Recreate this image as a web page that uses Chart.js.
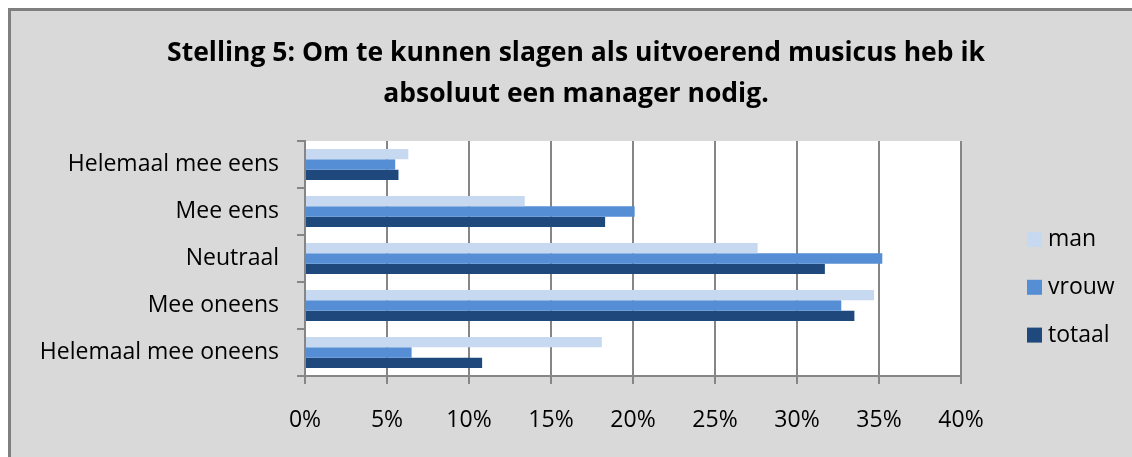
<!DOCTYPE html>
<html><head><meta charset="utf-8">
<script src="https://cdn.jsdelivr.net/npm/chart.js@4"></script>
<style>
html,body{margin:0;padding:0;background:#fff;}
#wrap{position:absolute;left:8px;top:8px;width:1121px;height:446px;border-left:3px solid #7f7f7f;border-top:3px solid #7f7f7f;background:#d9d9d9;}
canvas{display:block;}
</style></head><body>
<div id="wrap"><canvas id="c" width="1121" height="446"></canvas></div>
<script>
const titleLines = ['Stelling 5: Om te kunnen slagen als uitvoerend musicus heb ik', 'absoluut een manager nodig.'];
const categories = ['Helemaal mee eens', 'Mee eens', 'Neutraal', 'Mee oneens', 'Helemaal mee oneens'];
const seriesNames = ['man', 'vrouw', 'totaal'];
const manValues = [6.3, 13.4, 27.6, 34.7, 18.1];
const vrouwValues = [5.5, 20.1, 35.2, 32.7, 6.5];
const totaalValues = [5.7, 18.3, 31.7, 33.5, 10.8];
const axisMin = 0, axisMax = 40, axisStep = 5;

const colors = ['#c6d9f1', '#558ed5', '#1f497d'];
const fontFamily = '"Open Sans", Lato, sans-serif';
const gridColor = '#868686';
const labelSize = 23;

const plotBg = {
  id: 'plotBg',
  beforeDraw(chart) {
    const a = chart.chartArea, ctx = chart.ctx;
    ctx.save(); ctx.fillStyle = '#ffffff';
    ctx.fillRect(a.left, a.top, a.right - a.left, a.bottom - a.top);
    ctx.restore();
  }
};
const titlePlugin = {
  id: 'titleDraw',
  afterDraw(chart) {
    const ctx = chart.ctx;
    ctx.save();
    ctx.fillStyle = '#000';
    ctx.font = 'bold 26.5px ' + fontFamily;
    ctx.textAlign = 'center'; ctx.textBaseline = 'middle';
    titleLines.forEach((t, i) => ctx.fillText(t, 565, 42 + i * 41));
    ctx.restore();
  }
};
const legendPlugin = {
  id: 'legendDraw',
  afterDraw(chart) {
    const ctx = chart.ctx, a = chart.chartArea;
    ctx.save();
    ctx.font = labelSize + 'px ' + fontFamily;
    ctx.textAlign = 'left'; ctx.textBaseline = 'middle';
    chart.data.datasets.forEach((ds, i) => {
      const cy = a.top + 98.5 + i * 47.8;
      ctx.fillStyle = ds.backgroundColor;
      ctx.fillRect(1016, cy - 7.5, 15, 15);
      ctx.fillStyle = '#000';
      ctx.fillText(ds.label, 1037, cy);
    });
    ctx.restore();
  }
};

new Chart(document.getElementById('c'), {
  type: 'bar',
  data: {
    labels: categories,
    datasets: [
      { label: seriesNames[0], data: manValues, backgroundColor: colors[0] },
      { label: seriesNames[1], data: vrouwValues, backgroundColor: colors[1] },
      { label: seriesNames[2], data: totaalValues, backgroundColor: colors[2] }
    ]
  },
  options: {
    indexAxis: 'y',
    responsive: false,
    animation: false,
    devicePixelRatio: 1,
    layout: { padding: { top: 130, right: 171, bottom: 0, left: 0 } },
    datasets: { bar: { categoryPercentage: 0.66, barPercentage: 1.0 } },
    plugins: { legend: { display: false }, title: { display: false }, tooltip: { enabled: false } },
    scales: {
      x: {
        min: axisMin, max: axisMax,
        afterFit(s) { s.height = 81; },
        ticks: { stepSize: axisStep, callback: v => v + '%', color: '#000', font: { family: fontFamily, size: labelSize }, padding: 23 },
        grid: { color: gridColor, lineWidth: 2, tickLength: 8 },
        border: { color: gridColor, width: 2 }
      },
      y: {
        afterFit(s) { s.width = 294; },
        ticks: { color: '#000', font: { family: fontFamily, size: labelSize }, padding: 18 },
        grid: { drawOnChartArea: false, color: gridColor, lineWidth: 2, tickLength: 8 },
        border: { color: gridColor, width: 2 }
      }
    }
  },
  plugins: [plotBg, titlePlugin, legendPlugin]
});
</script>
</body></html>
